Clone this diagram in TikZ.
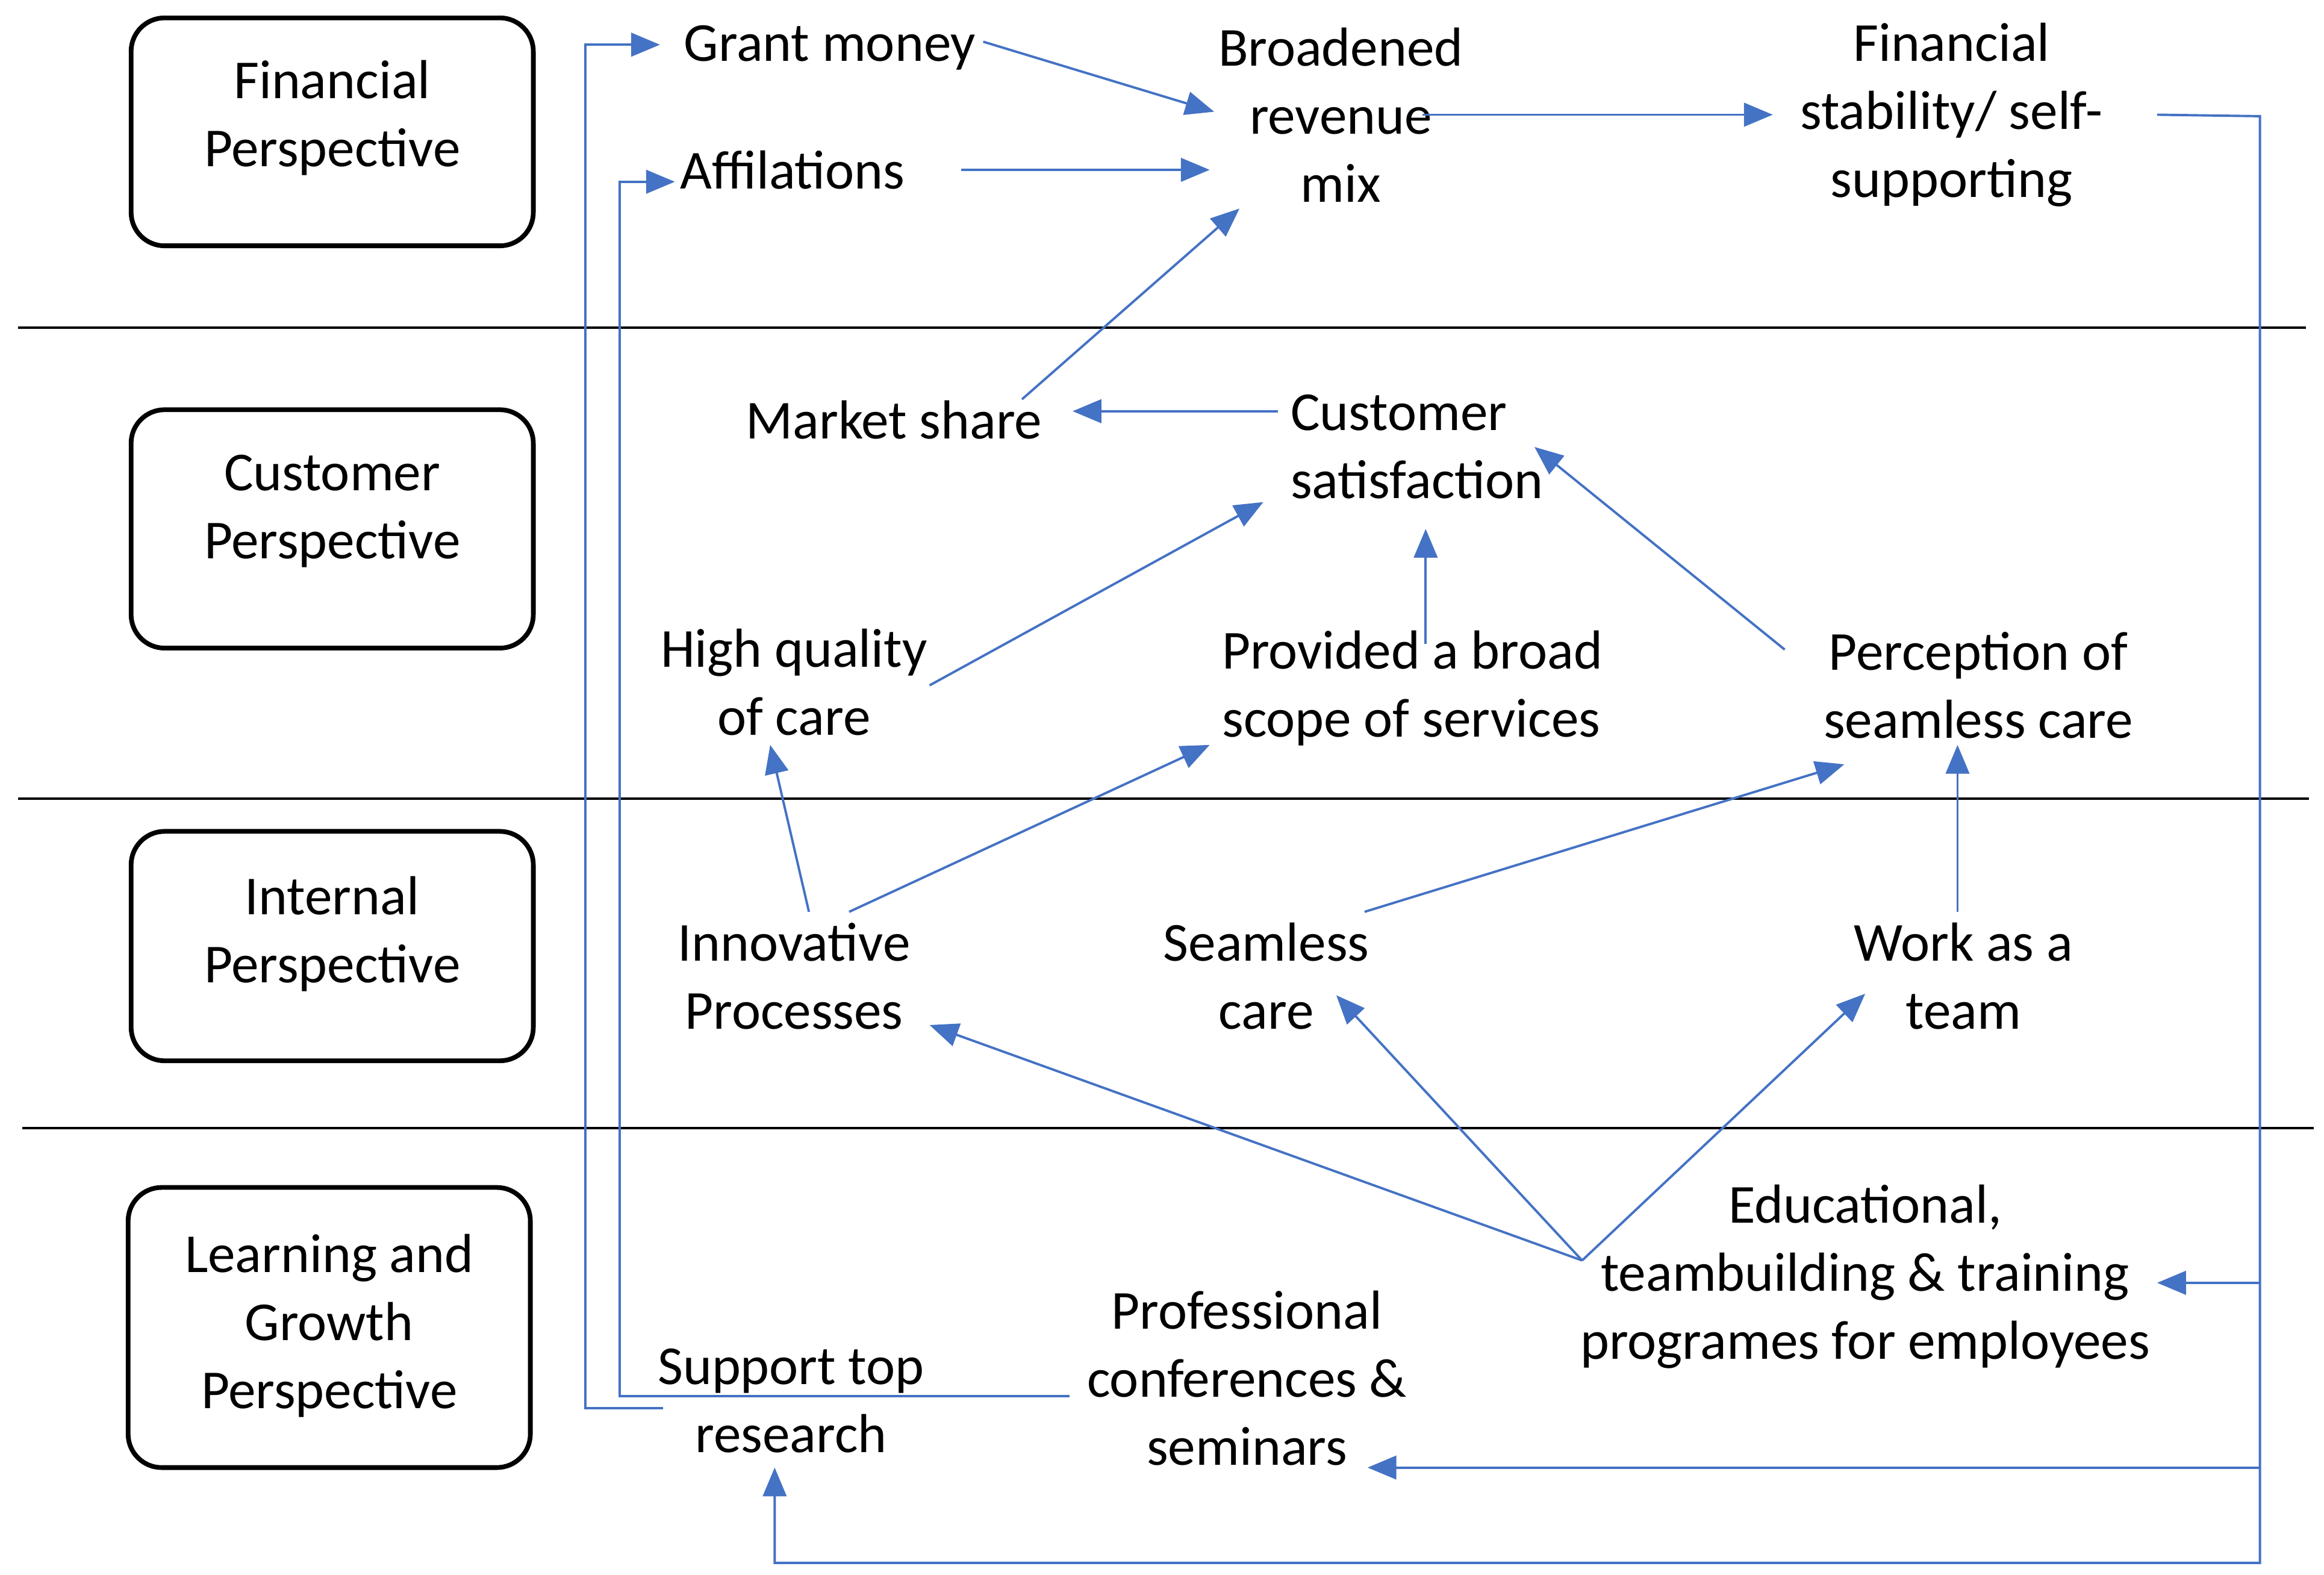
\documentclass[tikz,border=0pt]{standalone}
\usepackage{fontspec}
\setmainfont{Carlito}
\usetikzlibrary{arrows.meta}
\definecolor{ab}{RGB}{68,114,196}
\begin{document}
\begin{tikzpicture}[x=0.02cm,y=-0.02cm,
  persp/.style={draw=black,line width=1.8pt,rounded corners=0.45cm},
  sep/.style={draw=black,line width=0.9pt},
  t/.style={font=\fontsize{21}{26}\selectfont,align=center,inner sep=0pt},
  tl/.style={font=\fontsize{21}{26}\selectfont,align=left,inner sep=0pt},
  ar/.style={draw=ab,line width=0.9pt,-{Triangle[length=11pt,width=9pt]}},
  ln/.style={draw=ab,line width=0.9pt}]
\useasboundingbox (0,0) rectangle (1560,1057);
% perspective boxes
\draw[persp] (88,12) rectangle (358,165);
\node[t] (pf) at (223,79) {Financial\\Perspective};
\draw[persp] (88,275) rectangle (358,435);
\node[t] (pc) at (223,343) {Customer\\Perspective};
\draw[persp] (88,558) rectangle (358,712);
\node[t] (pi) at (223,627) {Internal\\Perspective};
\draw[persp] (86,797) rectangle (356,985);
\node[t] (pl) at (221,890) {Learning and\\Growth\\Perspective};
% separators
\draw[sep] (12,220) -- (1548,220);
\draw[sep] (12,536) -- (1550,536);
\draw[sep] (15,757) -- (1553,757);
% text nodes
\node[t] (grant) at (557,32) {Grant money};
\node[t] (affil) at (532,114) {Affilations};
\node[t] (broad) at (900,77) {Broadened\\revenue\\mix};
\node[t] (fin) at (1310,77) {Financial\\stability/ self-\\supporting};
\node[t] (market) at (600,282) {Market share};
\node[tl,anchor=west] (csat) at (866,300) {Customer\\satisfaction};
\node[t] (hq) at (533,458) {High quality\\of care};
\node[tl,anchor=west] (prov) at (820,462) {Provided a broad\\scope of services};
\node[t] (perc) at (1328,460) {Perception of\\seamless care};
\node[t] (innov) at (533,655) {Innovative\\Processes};
\node[t] (seam) at (850,655) {Seamless\\care};
\node[t] (team) at (1318,655) {Work as a\\team};
\node[t] (edu) at (1252,857) {Educational,\\teambuilding \& training\\programes for employees};
\node[t] (conf) at (837,925) {Professional\\conferences \&\\seminars};
\node[t] (sup) at (531,940) {Support top\\research};
% coordinates
\coordinate (e0) at (1062,846);
\coordinate (r1) at (1517,78);
\coordinate (r2) at (1517,1049);
\coordinate (r3) at (520,1049);
\coordinate (rE) at (1517,861);
\coordinate (rC) at (1517,985);
% connectors
\draw[ar] (660,28) -- (815,75);
\draw[ar] (645,114) -- (812,114);
\draw[ar] (686,268) -- (832,140);
\draw[ar] (955,77) -- (1190,77);
\draw[ar] (858,276) -- (720,276);
\draw[ar] (624,460) -- (848,337);
\draw[ar] (957,432) -- (957,355);
\draw[ar] (1198,436) -- (1030,300);
\draw[ar] (543,612) -- (517,500);
\draw[ar] (570,612) -- (812,500);
\draw[ar] (916,612) -- (1238,513);
\draw[ar] (1314,612) -- (1314,500);
\draw[ar] (e0) -- (624,688);
\draw[ar] (e0) -- (897,668);
\draw[ar] (e0) -- (1252,667);
\draw[ar] (1448,77) -- (r1) -- (r2) -- (r3) -- (520,985);
\draw[ar] (rE) -- (1448,861);
\draw[ar] (rC) -- (918,985);
\draw[ar] (718,937) -- (416,937) -- (416,122) -- (453,122);
\draw[ar] (445,945) -- (393,945) -- (393,30) -- (443,30);
\end{tikzpicture}
\end{document}
